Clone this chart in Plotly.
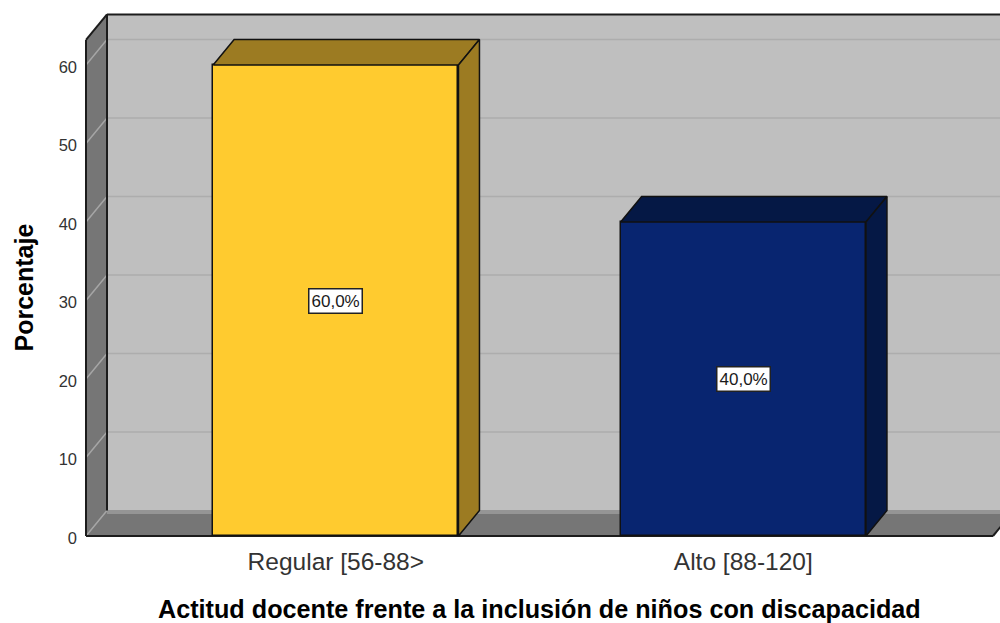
import plotly.graph_objects as go

categories = ["Regular [56-88>", "Alto [88-120]"]
percentages = [60.0, 40.0]
value_labels = ["60,0%", "40,0%"]
y_ticks = [0, 10, 20, 30, 40, 50, 60]

FONT = "Liberation Sans"
EDGE = "#1c1c1c"
BAR_EDGE = "#111111"
front_colors = ["#FFCB2F", "#082570"]
side_colors = ["#9C7B22", "#051845"]

# scale of the drawing: pixels per category step and per percentage point
PX_X = 407.5
PX_Y = 7.85
BAR_W = 0.602
ZERO_X = 335.8    # pixel of the first category
DX = 21 / PX_X    # depth of the fake 3D box
DY = 25.5 / PX_Y
WALL_LEFT = -(ZERO_X - 86) / PX_X
FLOOR_RIGHT = (993 - ZERO_X) / PX_X
WALL_TOP = 63.2

M_L, M_R, M_T, M_B = 80, 0, 8, 83
x_range = [-(ZERO_X - M_L) / PX_X, (1000 - ZERO_X) / PX_X]
y_range = [-(623 - M_B - 536) / PX_Y, (536 - M_T) / PX_Y]


def paper_x(px):
    return (px - M_L) / (1000 - M_L - M_R)


def paper_y(px):
    return (623 - M_B - px) / (623 - M_T - M_B)


def poly(xs, ys, fill):
    path = "M " + " L ".join(f"{x},{y}" for x, y in zip(xs, ys)) + " Z"
    return dict(type="path", path=path, xref="x", yref="y", layer="below",
                fillcolor=fill, line=dict(color=fill, width=0))


def seg(x0, y0, x1, y1, color, width=1.5):
    return dict(type="line", x0=x0, y0=y0, x1=x1, y1=y1, xref="x", yref="y",
                layer="below", line=dict(color=color, width=width))


back_l = WALL_LEFT + DX
back_r = FLOOR_RIGHT + DX

shapes = [
    # back wall, side wall, floor
    poly([back_l, back_r, back_r, back_l], [DY, DY, WALL_TOP + DY, WALL_TOP + DY], "#BFBFBF"),
    poly([WALL_LEFT, back_l, back_l, WALL_LEFT], [0, DY, WALL_TOP + DY, WALL_TOP], "#767676"),
    poly([WALL_LEFT, FLOOR_RIGHT, back_r, back_l], [0, 0, DY, DY], "#767676"),
    seg(back_l, DY - 0.2, back_r, DY - 0.2, "#959595", 4),
]
for t in y_ticks[1:]:
    shapes.append(seg(back_l, t + DY, back_r, t + DY, "#ADADAD"))
    shapes.append(seg(WALL_LEFT, t, back_l, t + DY, "#A6A6A6"))
shapes += [
    seg(WALL_LEFT, 0, back_l, DY, "#A6A6A6"),
    seg(back_l, DY, back_l, WALL_TOP + DY, EDGE, 2),
    seg(back_l, WALL_TOP + DY, back_r, WALL_TOP + DY, EDGE, 2),
    seg(WALL_LEFT, 0, WALL_LEFT, WALL_TOP, EDGE, 2),
    seg(WALL_LEFT, WALL_TOP, back_l, WALL_TOP + DY, EDGE, 2),
    seg(WALL_LEFT, 0, FLOOR_RIGHT, 0, EDGE, 2),
    seg(FLOOR_RIGHT, 0, back_r, DY, EDGE, 2),
]

positions = list(range(len(categories)))

fig = go.Figure()
fig.add_trace(go.Bar(
    x=positions, y=percentages, width=BAR_W,
    marker=dict(color=front_colors, line=dict(color=BAR_EDGE, width=1.5)),
    hoverinfo="skip", showlegend=False,
))

# top and side faces of each bar
for pos, val, side in zip(positions, percentages, side_colors):
    left, right = pos - BAR_W / 2, pos + BAR_W / 2
    fig.add_trace(go.Scatter(
        x=[left, right, right + DX, left + DX, left],
        y=[val, val, val + DY, val + DY, val],
        mode="lines", fill="toself", fillcolor=side,
        line=dict(color=BAR_EDGE, width=1.5),
        hoverinfo="skip", showlegend=False,
    ))
    fig.add_trace(go.Scatter(
        x=[right, right + DX, right + DX, right, right],
        y=[0, DY, val + DY, val, 0],
        mode="lines", fill="toself", fillcolor=side,
        line=dict(color=BAR_EDGE, width=1.5),
        hoverinfo="skip", showlegend=False,
    ))

annotations = [
    dict(x=pos, y=val / 2, xref="x", yref="y", text=label, showarrow=False,
         font=dict(family=FONT, size=17, color="#1a1a1a"),
         bgcolor="white", bordercolor="#222222", borderwidth=1.5, borderpad=2)
    for pos, val, label in zip(positions, percentages, value_labels)
]
annotations.append(dict(
    x=paper_x(23), y=paper_y(287.5), xref="paper", yref="paper",
    xanchor="center", yanchor="middle", text="<b>Porcentaje</b>", textangle=-90,
    showarrow=False, font=dict(family=FONT, size=25, color="black"),
))
annotations.append(dict(
    x=paper_x(539), y=paper_y(609), xref="paper", yref="paper",
    xanchor="center", yanchor="middle",
    text="<b>Actitud docente frente a la inclusión de niños con discapacidad</b>",
    showarrow=False, font=dict(family=FONT, size=25.2, color="black"),
))

fig.update_layout(
    width=1000, height=623,
    margin=dict(l=M_L, r=M_R, t=M_T, b=M_B),
    paper_bgcolor="white", plot_bgcolor="white",
    bargap=0, showlegend=False,
    shapes=shapes, annotations=annotations,
    xaxis=dict(
        range=x_range, tickmode="array", tickvals=positions, ticktext=categories,
        showgrid=False, zeroline=False, showline=False, ticks="", ticklabelstandoff=4,
        tickfont=dict(family=FONT, size=24.5, color="#333333"),
    ),
    yaxis=dict(
        range=y_range, tickmode="array", tickvals=y_ticks,
        showgrid=False, zeroline=False, showline=False, ticks="", ticklabelstandoff=2,
        ticklabelshift=2,
        tickfont=dict(family=FONT, size=16.5, color="#333333"),
    ),
)

# the page's default body margin would push the figure off by 8px
fig.write_html("out.html", config={"displayModeBar": False},
               post_script="document.body.style.margin='0';")
